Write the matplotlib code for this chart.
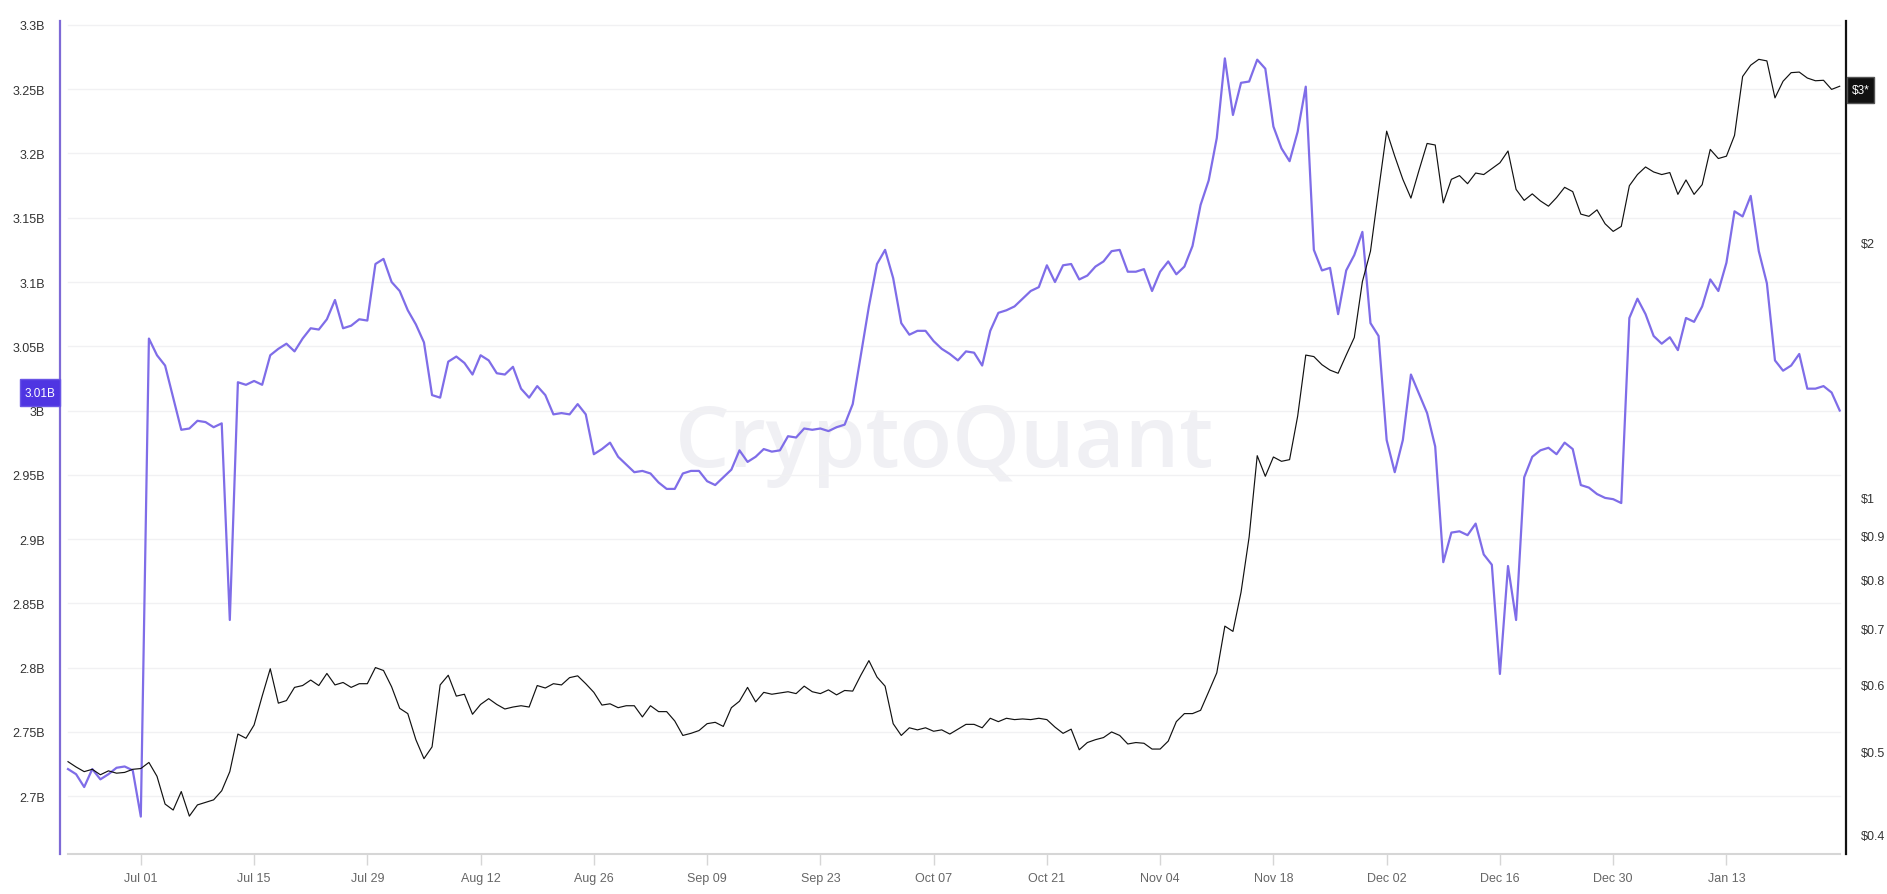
import numpy as np
import pandas as pd
import matplotlib
matplotlib.use('Agg')
import matplotlib.pyplot as plt
import matplotlib.dates as mdates
from matplotlib.patches import Rectangle
from matplotlib.ticker import NullLocator

plt.rcParams['font.family'] = ['Liberation Sans', 'DejaVu Sans']

# Daily series, 2024-06-22 .. 2025-01-27
start_date = '2024-06-22'

# purple series, billions (left axis)
purple = [
    2.721, 2.717, 2.707, 2.721, 2.713, 2.717, 2.722, 2.723, 2.720, 2.684,
    3.056, 3.043, 3.035, 3.010, 2.985, 2.986, 2.992, 2.991, 2.987, 2.990,
    2.837, 3.022, 3.020, 3.023, 3.020, 3.043, 3.048, 3.052, 3.046, 3.056,
    3.064, 3.063, 3.071, 3.086, 3.064, 3.066, 3.071, 3.070, 3.114, 3.118,
    3.100, 3.093, 3.078,
    3.067, 3.053, 3.012, 3.010, 3.038, 3.042, 3.037, 3.028, 3.043, 3.039,
    3.029, 3.028, 3.034, 3.017, 3.010, 3.019, 3.012, 2.997, 2.998, 2.997,
    3.005, 2.997, 2.966, 2.970, 2.975, 2.964, 2.958, 2.952, 2.953, 2.951,
    2.944, 2.939, 2.939, 2.951, 2.953, 2.953, 2.945, 2.942, 2.948, 2.954,
    2.969, 2.960, 2.964, 2.970, 2.968,
    2.969, 2.980, 2.979, 2.986, 2.985, 2.986, 2.984, 2.987, 2.989, 3.005,
    3.043, 3.081, 3.114, 3.125, 3.103, 3.068, 3.059, 3.062, 3.062, 3.054,
    3.048, 3.044, 3.039, 3.046, 3.045, 3.035, 3.062, 3.076, 3.078, 3.081,
    3.087, 3.093, 3.096, 3.113, 3.100, 3.113, 3.114, 3.102, 3.105, 3.112,
    3.116, 3.124, 3.125, 3.108,
    3.108, 3.110, 3.093, 3.108, 3.116, 3.106, 3.112, 3.128, 3.160, 3.179,
    3.212, 3.274, 3.230, 3.255, 3.256, 3.273, 3.266, 3.221, 3.204, 3.194,
    3.217, 3.252, 3.125, 3.109, 3.111, 3.075, 3.109, 3.121, 3.139, 3.068,
    3.058, 2.977, 2.952, 2.977, 3.028, 3.013, 2.998, 2.972, 2.882, 2.905,
    2.906, 2.903, 2.912, 2.888,
    2.880, 2.795, 2.879, 2.837, 2.948, 2.964, 2.969, 2.971, 2.966, 2.975,
    2.970, 2.942, 2.940, 2.935, 2.932, 2.931, 2.928, 3.072, 3.087, 3.075,
    3.058, 3.052, 3.057, 3.047, 3.072, 3.069, 3.081, 3.102, 3.093, 3.115,
    3.155, 3.151, 3.167, 3.124, 3.099, 3.039, 3.031, 3.035, 3.044, 3.017,
    3.017, 3.019, 3.014, 3.000,
]

# price series, USD (right axis, log)
price = [
    0.487, 0.480, 0.474, 0.477, 0.470, 0.475, 0.472, 0.473, 0.477, 0.478,
    0.486, 0.468, 0.434, 0.427, 0.449, 0.420, 0.433, 0.436, 0.439, 0.450,
    0.474, 0.525, 0.519, 0.538, 0.582, 0.627, 0.571, 0.575, 0.596, 0.599,
    0.608, 0.599, 0.619, 0.600, 0.604, 0.596, 0.602, 0.602, 0.629, 0.624,
    0.597, 0.563, 0.555,
    0.517, 0.491, 0.507, 0.600, 0.616, 0.582, 0.585, 0.554, 0.569, 0.578,
    0.569, 0.562, 0.565, 0.567, 0.565, 0.599, 0.595, 0.602, 0.600, 0.612,
    0.615, 0.602, 0.588, 0.568, 0.570, 0.564, 0.567, 0.567, 0.550, 0.567,
    0.558, 0.558, 0.544, 0.523, 0.526, 0.530, 0.540, 0.542, 0.536, 0.564,
    0.574, 0.596, 0.573, 0.588, 0.585,
    0.587, 0.589, 0.586, 0.598, 0.589, 0.586, 0.592, 0.584, 0.591, 0.590,
    0.616, 0.641, 0.613, 0.598, 0.540, 0.523, 0.534, 0.531, 0.534, 0.529,
    0.531, 0.525, 0.532, 0.539, 0.539, 0.534, 0.548, 0.543, 0.548, 0.546,
    0.547, 0.546, 0.548, 0.546, 0.535, 0.526, 0.532, 0.503, 0.513, 0.517,
    0.520, 0.528, 0.523, 0.511,
    0.513, 0.512, 0.504, 0.504, 0.515, 0.543, 0.555, 0.555, 0.560, 0.589,
    0.620, 0.704, 0.694, 0.772, 0.897, 1.119, 1.058, 1.115, 1.102, 1.107,
    1.246, 1.471, 1.465, 1.433, 1.412, 1.400, 1.471, 1.543, 1.796, 1.951,
    2.301, 2.704, 2.526, 2.372, 2.254, 2.431, 2.615, 2.604, 2.225, 2.372,
    2.396, 2.344, 2.413, 2.403,
    2.442, 2.481, 2.562, 2.308, 2.240, 2.280, 2.237, 2.205, 2.257, 2.321,
    2.294, 2.158, 2.145, 2.183, 2.102, 2.059, 2.087, 2.331, 2.403, 2.453,
    2.420, 2.403, 2.416, 2.277, 2.368, 2.277, 2.338, 2.573, 2.510, 2.526,
    2.673, 3.137, 3.235, 3.287, 3.273, 2.960, 3.097, 3.170, 3.175, 3.124,
    3.101, 3.105, 3.029, 3.055,
]

left_ticks = [2.7, 2.75, 2.8, 2.85, 2.9, 2.95, 3.0, 3.05, 3.1, 3.15, 3.2, 3.25, 3.3]
left_labels = ['2.7B', '2.75B', '2.8B', '2.85B', '2.9B', '2.95B', '3B',
               '3.05B', '3.1B', '3.15B', '3.2B', '3.25B', '3.3B']
right_ticks = [0.4, 0.5, 0.6, 0.7, 0.8, 0.9, 1, 2]
right_labels = ['$0.4', '$0.5', '$0.6', '$0.7', '$0.8', '$0.9', '$1', '$2']
x_ticks = pd.date_range('2024-07-01', '2025-01-13', freq='14D')

dates = pd.date_range(start_date, periods=len(purple), freq='D')

purple_c = '#7f6de8'
W, H = 1887, 895

fig = plt.figure(figsize=(W / 100, H / 100), dpi=100)
ax = fig.add_axes([60 / W, 40 / H, 1786 / W, 833 / H])
ax2 = ax.twinx()

# watermark
ax.text(0.4955, 0.492, 'CryptoQuant', transform=ax.transAxes, ha='center', va='center',
        fontsize=62, color='#f0f0f4', fontweight='semibold', family='Open Sans', zorder=0)

# grid + bottom line
for v in left_ticks:
    ax.axhline(v, xmin=0.0045, xmax=0.9966, color='#f1f1f3', lw=1, zorder=0)
ax.axhline(2.6549, xmin=0.0045, xmax=0.9966, color='#d6d6d6', lw=1.5, zorder=1, clip_on=False)

ax.plot(dates, purple, color=purple_c, lw=1.6, zorder=3)
ax2.plot(dates, price, color='#111111', lw=0.85, zorder=2)

x0 = pd.Timestamp('2024-07-01')
ax.set_xlim(x0 - pd.Timedelta(days=9.99), x0 + pd.Timedelta(days=210.78))
ax.set_ylim(2.6549, 3.3031)
ax.set_yticks(left_ticks)
ax.set_yticklabels(left_labels)
ax.tick_params(axis='y', length=0, pad=11, labelsize=9, labelcolor='#333333')

ax.set_xticks(x_ticks)
ax.xaxis.set_major_formatter(mdates.DateFormatter('%b %d'))
ax.tick_params(axis='x', length=8, width=1, color='#d6d6d6', pad=5, labelsize=9, labelcolor='#666666')

ax2.set_yscale('log')
ax2.set_ylim(0.3789, 3.648)
ax2.set_yticks(right_ticks)
ax2.set_yticklabels(right_labels)
ax2.yaxis.set_minor_locator(NullLocator())
ax2.tick_params(axis='y', which='both', length=0, pad=11, labelsize=9, labelcolor='#333333')

for a in (ax, ax2):
    for side in ('top', 'bottom', 'left', 'right'):
        a.spines[side].set_visible(False)
ax.spines['left'].set_visible(True)
ax.spines['left'].set_color('#7e6ad6')
ax.spines['left'].set_linewidth(1.6)
ax2.spines['right'].set_visible(True)
ax2.spines['right'].set_color('#111111')
ax2.spines['right'].set_linewidth(1.6)

# current value tags
fig.add_artist(Rectangle((20 / W, 1 - 407 / H), 40 / W, 27 / H, transform=fig.transFigure,
                         facecolor='#4f35e2', edgecolor='#6a55e6', lw=1, zorder=5))
fig.text(40 / W, 1 - 394 / H, '3.01B', ha='center', va='center', color='white', fontsize=8.5, zorder=6)
fig.add_artist(Rectangle((1847 / W, 1 - 104 / H), 27 / W, 26 / H, transform=fig.transFigure,
                         facecolor='#111111', edgecolor='#555555', lw=1, zorder=5))
fig.text(1860.5 / W, 1 - 91 / H, '$3*', ha='center', va='center', color='white', fontsize=8.5, zorder=6)

fig.savefig('out.png', dpi=100, facecolor='white')
